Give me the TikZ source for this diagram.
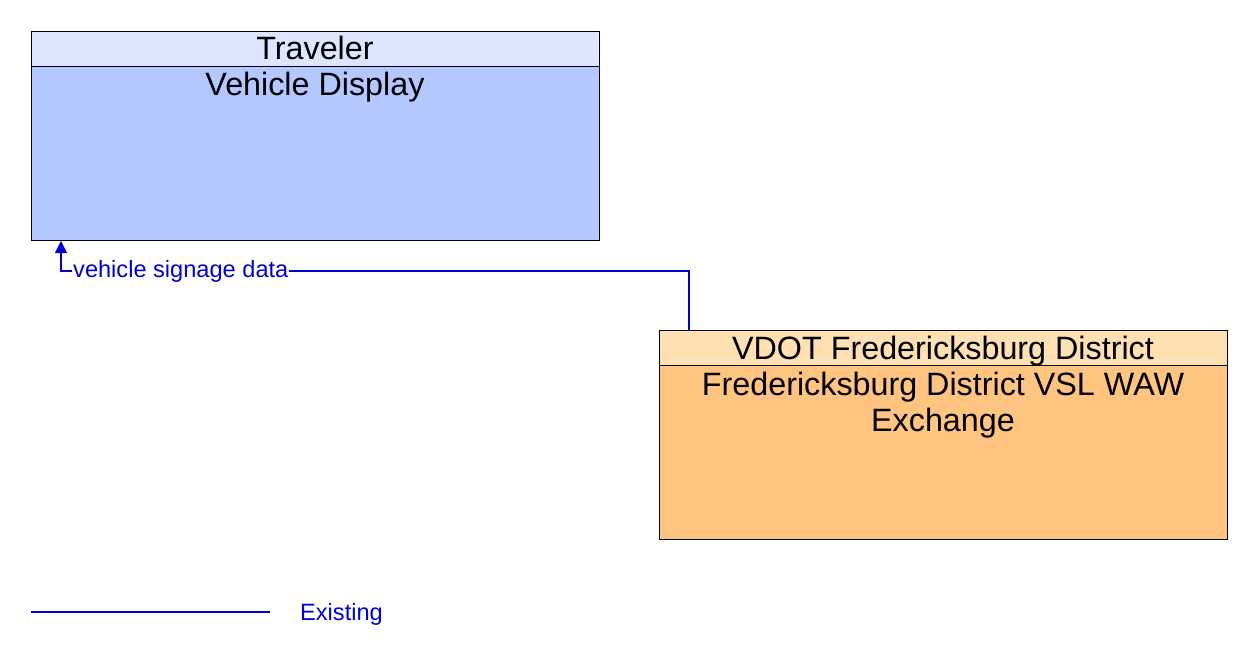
\documentclass[tikz,border=0pt]{standalone}
\usepackage{fontspec}
\setmainfont{Liberation Sans}
\usetikzlibrary{arrows.meta}
\definecolor{bluebody}{RGB}{180,200,255}
\definecolor{bluehead}{RGB}{222,230,255}
\definecolor{orangebody}{RGB}{255,196,128}
\definecolor{orangehead}{RGB}{255,224,178}
\definecolor{flowblue}{RGB}{0,0,210}
\tikzset{
  boxbody/.style={draw=black, line width=1pt, rectangle, inner sep=0pt, minimum width=568pt, minimum height=209pt, anchor=north west},
  boxhead/.style={draw=black, line width=1pt, rectangle, inner sep=0pt, minimum width=568pt, minimum height=35pt, anchor=north west},
  boxtext/.style={anchor=base, inner sep=0pt, font=\fontsize{32.3}{36}\selectfont, align=center, text=black},
  flow/.style={color=flowblue, line width=1.1pt},
  flowlabel/.style={anchor=base west, inner sep=1pt, fill=white, text=flowblue, font=\fontsize{23.6}{28}\selectfont},
}
\begin{document}
\begin{tikzpicture}[x=1pt, y=-1pt]
\useasboundingbox (0,0) rectangle (1252,658);
% Traveler / Vehicle Display
\node[boxbody, fill=bluebody] (vd) at (31,31) {};
\node[boxhead, fill=bluehead] (trav) at (31,31) {};
\node[boxtext] (travt) at (315,60) {Traveler};
\node[boxtext] (vdt) at (315,96) {Vehicle Display};
% VDOT / VSL WAW Exchange
\node[boxbody, fill=orangebody] (waw) at (659,330) {};
\node[boxhead, fill=orangehead] (vdot) at (659,330) {};
\node[boxtext] (vdott) at (943,359) {VDOT Fredericksburg District};
\node[boxtext] (wawt) at (943,431) {Fredericksburg District VSL WAW\\Exchange};
% connector
\draw[flow, {Triangle[width=12pt,length=12pt]}-] ([xshift=30pt]vd.south west) -- ++(0,30) coordinate (bend) -| ([xshift=30pt]waw.north west);
\node[flowlabel] (lbl) at (72,277) {vehicle signage data};
% legend
\coordinate (lega) at (31,612);
\coordinate (legb) at (270,612);
\draw[flow] (lega) -- (legb);
\node[anchor=base west, inner sep=0pt, text=flowblue, font=\fontsize{23.6}{28}\selectfont] (legt) at (300,620) {Existing};
\end{tikzpicture}
\end{document}
